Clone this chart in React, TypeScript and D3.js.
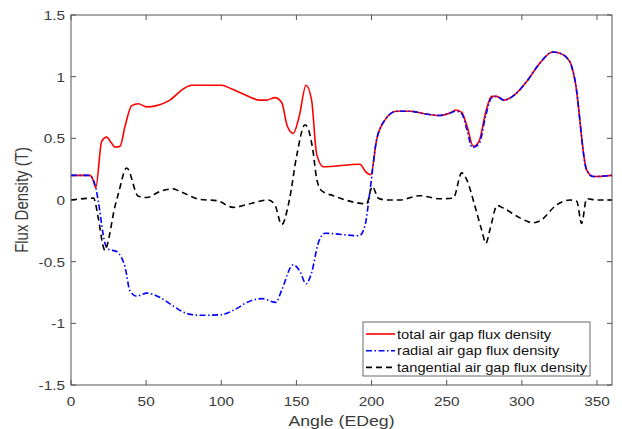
import React from 'react';
import * as d3 from 'd3';

// [angle (deg), flux density (T)]
const total: [number, number][] = [
  [0, 0.2], [12.5, 0.2], [14.5, 0.17], [16.5, 0.1], [20.4, 0.475], [23.7, 0.51], [27, 0.46],
  [29.3, 0.43], [32.6, 0.435], [36, 0.6], [40.4, 0.765], [44.8, 0.78], [50.4, 0.755], [57, 0.765],
  [65.8, 0.81], [74.7, 0.9], [80.3, 0.93], [90, 0.93], [100, 0.93], [107, 0.9], [114.6, 0.86],
  [125.7, 0.81], [130, 0.81], [135.7, 0.83], [140.2, 0.79], [143.9, 0.6], [147.9, 0.54],
  [151.9, 0.68], [156.4, 0.93], [160.1, 0.81], [163.5, 0.37], [167.9, 0.27], [192.3, 0.29],
  [196, 0.23], [199.5, 0.205], [203.4, 0.49], [209, 0.65], [216.7, 0.72], [225.5, 0.72],
  [235, 0.7], [245.5, 0.685], [252.2, 0.705], [256.2, 0.73], [260, 0.71], [263.5, 0.6],
  [267.7, 0.435], [271.5, 0.475], [276.1, 0.72], [279.9, 0.84], [283.2, 0.84], [288.1, 0.81],
  [295.4, 0.855], [303.2, 0.96], [312, 1.11], [320.5, 1.2], [325.3, 1.19], [332, 1.12],
  [335.3, 0.975], [343.1, 0.245], [347.5, 0.19], [360, 0.2]
];

const radial: [number, number][] = [
  [0, 0.2], [12.5, 0.2], [14.5, 0.17], [16.5, 0.1], [18, 0], [19.3, -0.1], [20.4, -0.2],
  [22.6, -0.35], [24.8, -0.4], [30.4, -0.417], [33.7, -0.47], [35.9, -0.54], [39.3, -0.74],
  [43.7, -0.78], [50.4, -0.755], [59.2, -0.79], [68.1, -0.86], [77, -0.92], [85.8, -0.935],
  [100, -0.93], [108, -0.895], [119, -0.82], [126.9, -0.8], [136.4, -0.83], [140.2, -0.73],
  [147.9, -0.525], [152.4, -0.58], [156.4, -0.68], [160.1, -0.59], [164.5, -0.35], [169, -0.27],
  [191.8, -0.29], [195.6, -0.21], [199, 0.08], [203.4, 0.49], [209, 0.65], [216.7, 0.72],
  [225.5, 0.72], [235, 0.7], [245.5, 0.685], [252.2, 0.705], [256.2, 0.72], [260, 0.7],
  [263.5, 0.57], [267, 0.425], [271.5, 0.455], [276.1, 0.69], [279.9, 0.83], [283.2, 0.84],
  [288.1, 0.81], [295.4, 0.855], [303.2, 0.96], [312, 1.11], [320.5, 1.2], [325.3, 1.19],
  [332, 1.12], [335.3, 0.975], [343.1, 0.245], [347.5, 0.19], [360, 0.2]
];

const tangential: [number, number][] = [
  [0, 0], [15, 0.015], [18.2, -0.15], [21.5, -0.38], [22.6, -0.41], [23.7, -0.38], [29.3, -0.05],
  [31.5, 0.05], [37.1, 0.26], [44.8, 0.03], [50.4, 0.02], [59.2, 0.07], [68, 0.09], [72.5, 0.07],
  [85.8, 0.005], [97, -0.005], [108, -0.06], [119, -0.03], [131.3, 0], [135.7, -0.04],
  [140.2, -0.2], [145.3, 0], [150.2, 0.36], [155.7, 0.61], [158, 0.57], [161, 0.4], [163.5, 0.17],
  [166.8, 0.075], [174.5, 0.035], [196.7, -0.03], [200.5, 0.11], [204.5, 0.015], [210, 0],
  [219, 0], [232, 0.035], [245.5, 0.01], [254.4, 0.015], [260, 0.22], [263.3, 0.165],
  [268.8, -0.05], [273.2, -0.24], [276.1, -0.35], [278.8, -0.24], [283.6, -0.045],
  [287.6, -0.065], [298.7, -0.145], [307.6, -0.185], [312, -0.17], [323.1, -0.04], [332, 0],
  [336.5, -0.01], [339.8, -0.19], [343.1, 0.01], [349.8, 0], [360, 0]
];

const xTicks = [0, 50, 100, 150, 200, 250, 300, 350];
const yTicks = [-1.5, -1, -0.5, 0, 0.5, 1, 1.5];

const series = [
  { name: 'total air gap flux density', data: total, color: '#ff0000', dash: '' },
  { name: 'radial air gap flux density', data: radial, color: '#0000ff', dash: '6 2.5 1.5 2.5' },
  { name: 'tangential air gap flux density', data: tangential, color: '#000000', dash: '6 4' }
];

const width = 622;
const height = 429;
const left = 71;
const right = 612;
const top = 15;
const bottom = 385;
const font = 'Liberation Sans, Arial, sans-serif';
const stretch = 1.18; // the picture is a bit wider than tall

const x = d3.scaleLinear().domain([0, 360]).range([left, right]);
const y = d3.scaleLinear().domain([-1.5, 1.5]).range([bottom, top]);

const line = d3
  .line<[number, number]>()
  .x(d => x(d[0]))
  .y(d => y(d[1]))
  .curve(d3.curveMonotoneX);

const axisColor = '#555';
const textColor = '#3a3a3a';

function T({ x, y, anchor = 'start', sx = stretch, children }: any) {
  return (
    <text transform={`translate(${x},${y}) scale(${sx},1)`} textAnchor={anchor}>
      {children}
    </text>
  );
}

export default function App() {
  const lx = 363;
  const ly = 322;
  return (
    <svg width={width} height={height} style={{ position: 'absolute', left: 0, top: 0 }}>
      <rect width={width} height={height} fill="#fff" />
      <g fontFamily={font} fontSize={13} fill={textColor}>
        {xTicks.map(t => (
          <g key={'x' + t}>
            <line x1={x(t)} x2={x(t)} y1={bottom} y2={bottom - 5} stroke={axisColor} />
            <line x1={x(t)} x2={x(t)} y1={top} y2={top + 5} stroke={axisColor} />
            <T x={x(t)} y={bottom + 21} anchor="middle">{t}</T>
          </g>
        ))}
        {yTicks.map(t => (
          <g key={'y' + t}>
            <line x1={left} x2={left + 5} y1={y(t)} y2={y(t)} stroke={axisColor} />
            <line x1={right} x2={right - 5} y1={y(t)} y2={y(t)} stroke={axisColor} />
            <T x={left - 6} y={y(t) + 5} anchor="end">{t}</T>
          </g>
        ))}
        <g fontSize={15}>
          <T x={(left + right) / 2} y={426} anchor="middle">Angle (EDeg)</T>
        </g>
        <text
          transform={`translate(28,${(top + bottom) / 2}) scale(${stretch},1) rotate(-90)`}
          textAnchor="middle"
          fontSize={15}
        >
          Flux Density (T)
        </text>
      </g>
      <g clipPath="url(#plot)">
        <defs>
          <clipPath id="plot">
            <rect x={left} y={top} width={right - left} height={bottom - top} />
          </clipPath>
        </defs>
        {series.map(s => (
          <path
            key={s.name}
            d={line(s.data) || ''}
            fill="none"
            stroke={s.color}
            strokeWidth={1.6}
            strokeDasharray={s.dash}
          />
        ))}
      </g>
      <rect x={left} y={top} width={right - left} height={bottom - top} fill="none" stroke={axisColor} strokeWidth={1} />
      <g fontFamily={font} fontSize={13} fill="#111">
        <rect x={lx} y={ly} width={227} height={54} fill="#fff" stroke="#444" strokeWidth={0.8} />
        {series.map((s, i) => (
          <g key={s.name}>
            <line
              x1={lx + 3}
              x2={lx + 32}
              y1={ly + 12 + i * 16.7}
              y2={ly + 12 + i * 16.7}
              stroke={s.color}
              strokeWidth={1.6}
              strokeDasharray={s.dash}
            />
            <T x={lx + 34} y={ly + 16.5 + i * 16.7} sx={1.13}>{s.name}</T>
          </g>
        ))}
      </g>
    </svg>
  );
}
